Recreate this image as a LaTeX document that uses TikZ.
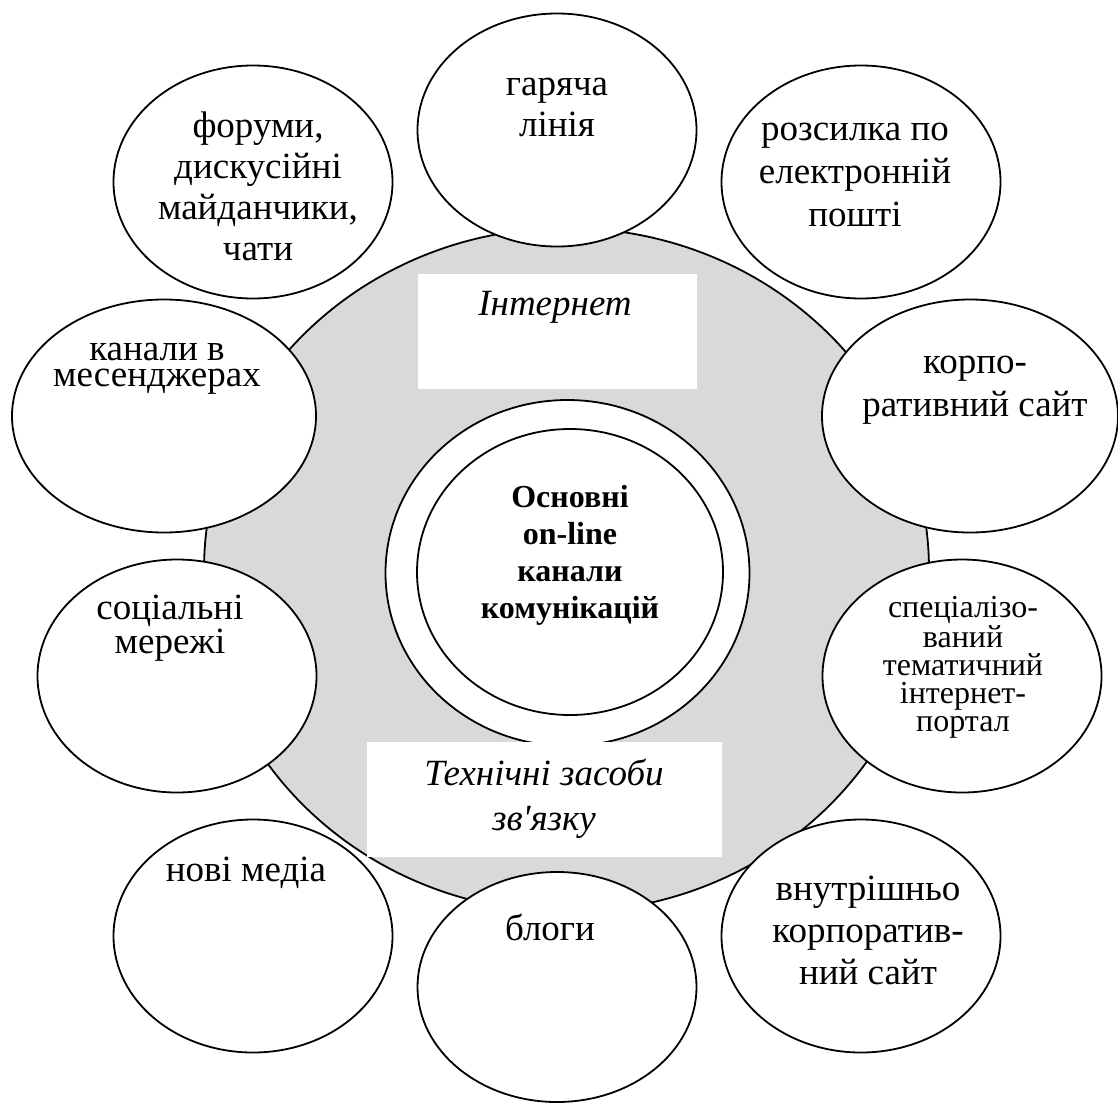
\documentclass[tikz,border=0pt]{standalone}
\usepackage{fontspec}
\setmainfont{Liberation Serif}
\usepackage{tikz}
\usetikzlibrary{shapes.geometric}
\definecolor{cgray}{RGB}{217,217,217}

\begin{document}
\begin{tikzpicture}[
  x=0.5pt, y=0.5pt,
  cring/.style={ellipse, draw=black, line width=0.9pt, inner sep=0pt},
  cbub/.style={ellipse, draw=black, line width=0.9pt, fill=white, inner sep=0pt,
               minimum width=139.5pt, minimum height=116.5pt},
  ctxt/.style={align=center, inner sep=0pt, font=\fontsize{18.5}{20.5}\selectfont},
  cbox/.style={fill=white, inner sep=0pt, minimum height=57.5pt},
]
  \useasboundingbox (0,0) rectangle (1118,-1103);
  % 1. grey ring
  \node[cring, fill=cgray, minimum width=362.5pt, minimum height=342pt] (ring) at (566.5,-570) {};
  % 2. channels round it
  \node[cbub] (hot) at (557,-130) {};
  \node[cbub] (forum) at (253,-182) {};
  \node[cbub] (mail) at (861,-182) {};
  \node[cbub, minimum width=152pt] (msg) at (164,-416) {};
  \node[cbub, minimum width=148pt] (corp) at (970,-416) {};
  \node[cbub] (soc) at (177,-676) {};
  \node[cbub] (portal) at (962,-676) {};
  \node[cbub] (media) at (253,-936) {};
  \node[cbub, minimum height=115pt] (blog) at (557,-987) {};
  \node[cbub] (intra) at (861,-936) {};
  % 3. centre
  \node[cbox, minimum width=139.5pt] (inetbox) at (557.5,-331.5) {};
  \node[cring, fill=white, minimum width=182pt, minimum height=173pt] (outer) at (567.5,-573) {};
  \node[cring, fill=white, minimum width=153pt, minimum height=143pt] (core) at (570,-572) {};
  \node[cbox, minimum width=177.5pt] (techbox) at (544.5,-799.5) {};
  % 4. texts
  \node[ctxt] (hott) at (557,-107) {гаряча\\лінія};
  \node[ctxt] (forumt) at (258,-186) {форуми,\\дискусійні\\майданчики,\\чати};
  \node[ctxt, font=\fontsize{18.5}{21.5}\selectfont] (mailt) at (855,-175) {розсилка по\\електронній\\пошті};
  \node[ctxt, font=\fontsize{18.5}{13}\selectfont] (msgt) at (157,-369) {канали в\\месенджерах};
  \node[ctxt, font=\fontsize{18.5}{21.5}\selectfont] (corpt) at (975,-390) {корпо-\\ративний сайт};
  \node[ctxt, font=\fontsize{18.5}{15}\selectfont] (soct) at (170,-628) {соціальні\\мережі};
  \node[ctxt, font=\fontsize{16}{14}\selectfont] (portalt) at (963,-667)
    {спеціалізо-\\ваний\\тематичний\\інтернет-\\портал};
  \node[ctxt] (mediat) at (246,-873) {нові медіа};
  \node[ctxt] (blogt) at (550,-927) {блоги};
  \node[ctxt, font=\fontsize{18.5}{21}\selectfont] (intrat) at (868,-930) {внутрішньо\\корпоратив-\\ний сайт};
  \node[ctxt, font=\fontsize{18.5}{20.5}\selectfont\itshape] (inet) at (555,-307) {Інтернет};
  \node[ctxt, font=\fontsize{18.5}{22.5}\selectfont\itshape] (tech) at (544,-799)
    {Технічні засоби\\зв\textquotesingle язку};
  \node[ctxt, font=\fontsize{16}{18.5}\selectfont\bfseries] (coret) at (570,-555)
    {Основні\\on-line\\канали\\комунікацій};
\end{tikzpicture}
\end{document}
